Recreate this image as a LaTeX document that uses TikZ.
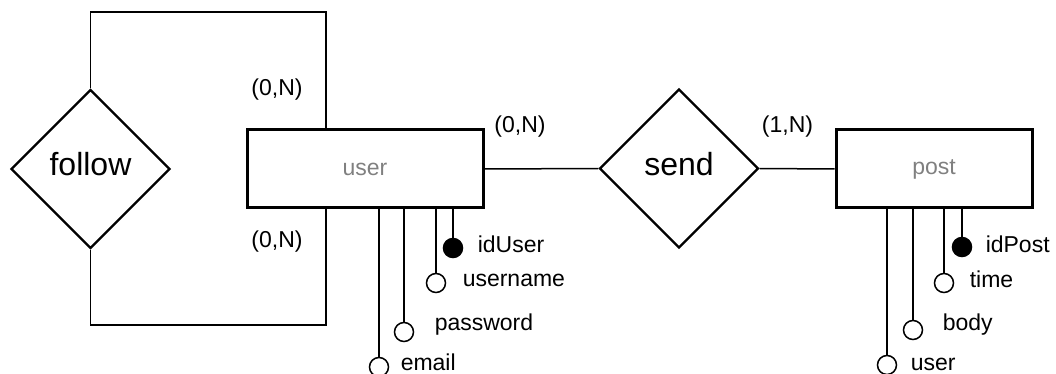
\documentclass[tikz,border=0pt]{standalone}
\usepackage{fontspec}
\setmainfont{Liberation Sans}
\usetikzlibrary{shapes.geometric,positioning}

\begin{document}
\begin{tikzpicture}[x=0.5pt,y=-0.5pt,line width=0.75pt,
    entity/.style={draw,
        line width=1.5pt,
        inner sep=0pt,
        minimum height=39pt,
        text=black!50,
        font=\fontsize{11.5}{13}\selectfont},
    relation/.style={draw,
        diamond,
        line width=1.2pt,
        inner sep=0pt,
        minimum width=79.5pt,
        minimum height=79.5pt,
        text height=11.5pt,
        text depth=4.5pt,
        font=\fontsize{16}{18}\selectfont},
    attr/.style={draw,
        circle,
        line width=0.75pt,
        inner sep=0pt,
        minimum size=9.5pt,
        fill=white},
    keyattr/.style={attr, fill=black},
    attrname/.style={anchor=base west, inner sep=0pt, font=\fontsize{11.5}{13}\selectfont},
    card/.style={anchor=base, inner sep=0pt, font=\fontsize{11.5}{13}\selectfont}
]

\useasboundingbox (0,0) rectangle (1056,374);

\node[entity,
    minimum width=118pt
] (user) at (365,169) { user };

\node[entity,
    minimum width=98pt
] (post) at (934,169) { post };

\node[relation] (follow) at (90.5,169) { follow };

\node[relation] (send) at (679,168.5) { send };

% attributes of user
\node[keyattr] (idUser) at (453,248) {};
\node[attr] (username) at (436,283) {};
\node[attr] (password) at (404,332) {};
\node[attr] (email) at (379,367) {};

\node[attrname] (idUserText) at (477,253) { idUser };
\node[attrname] (usernameText) at (462,286) { username };
\node[attrname] (passwordText) at (434,330) { password };
\node[attrname] (emailText) at (400,370) { email };

% attributes of post
\node[keyattr] (idPost) at (962,247) {};
\node[attr] (time) at (944,283) {};
\node[attr] (body) at (913,330) {};
\node[attr] (postUser) at (887,365) {};

\node[attrname] (idPostText) at (985,253) { idPost };
\node[attrname] (timeText) at (969,287) { time };
\node[attrname] (bodyText) at (942,330) { body };
\node[attrname] (postUserText) at (910,370) { user };

% cardinalities
\node[card] (cardFollowTop) at (277,96) { (0,N) };
\node[card] (cardFollowBottom) at (277,248) { (0,N) };
\node[card] (cardSendUser) at (520,133) { (0,N) };
\node[card] (cardSendPost) at (787.5,133) { (1,N) };

\coordinate (followTop) at (326,12);
\coordinate (followBottom) at (326,325);

\draw (follow.north) |- (followTop) -- (user.north -| followTop);
\draw (follow.south) |- (followBottom) -- (user.south -| followBottom);

\draw (user.east) -- (send.west);
\draw (send.east) -- (post.west);

\draw (idUser) -- (idUser |- user.south);
\draw (username) -- (username |- user.south);
\draw (password) -- (password |- user.south);
\draw (email) -- (email |- user.south);

\draw (idPost) -- (idPost |- post.south);
\draw (time) -- (time |- post.south);
\draw (body) -- (body |- post.south);
\draw (postUser) -- (postUser |- post.south);

\end{tikzpicture}
\end{document}
